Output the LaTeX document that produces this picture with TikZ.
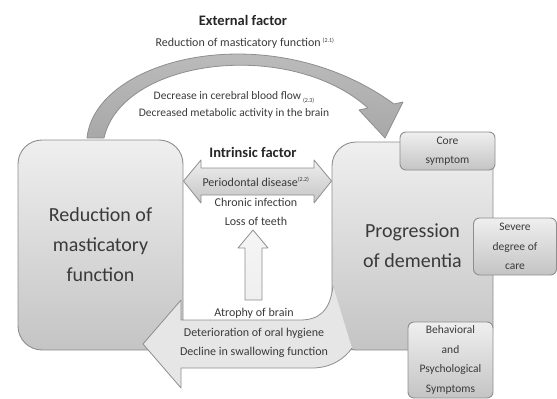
\documentclass[tikz,border=0pt]{standalone}
\usepackage{fontspec}
\setmainfont{Carlito}
\usetikzlibrary{positioning}

\definecolor{edgegray}{HTML}{8E8E8E}
\definecolor{inkgray}{HTML}{3A3A3A}
\definecolor{boxtop}{HTML}{EFEFEF}
\definecolor{boxbot}{HTML}{C4C4C4}
\definecolor{arctop}{HTML}{C4C4C4}
\definecolor{arcbot}{HTML}{A8A8A8}
\definecolor{lowfill}{HTML}{E6E6E6}

\tikzset{
  bigbox/.style={draw=edgegray, line width=0.9pt, rounded corners=24pt,
    top color=boxtop, bottom color=boxbot, text=inkgray, align=center,
    inner sep=0pt, font=\fontsize{20}{30}\selectfont},
  smallbox/.style={draw=edgegray, line width=0.9pt, rounded corners=6pt,
    top color=boxtop, bottom color=boxbot, text=inkgray, align=center,
    inner sep=0pt, font=\fontsize{11.5}{19.5}\selectfont},
  factor/.style={font=\bfseries\fontsize{14.5}{16}\selectfont, text=black!85, inner sep=0pt},
  cause/.style={text=inkgray, align=center, inner sep=0pt, font=\fontsize{12}{19.5}\selectfont},
  fatarrow/.style={draw=edgegray, line width=0.8pt, line join=round}
}
\newcommand{\refnum}[1]{\textsuperscript{\fontsize{6}{6}\selectfont(#1)}}

\begin{document}
\begin{tikzpicture}[x=1pt,y=-1pt]
\useasboundingbox (0,0) rectangle (557,399);

% external factor: curved arrow over the top
\path[fatarrow, top color=arctop, bottom color=arcbot]
  (87,138) .. controls (95,58) and (270,14) .. (394,104)
  -- (403,102) -- (385,138) -- (359,110) -- (368,108)
  .. controls (290,38) and (122,58) .. (104,138) -- cycle;

% main boxes
\node[bigbox, minimum width=165pt, minimum height=210pt] (masticatory) at (100.5,245)
  {Reduction of\\masticatory\\function};
\node[bigbox, minimum width=161pt, minimum height=208pt] (dementia) at (412.5,246)
  {Progression\\of dementia};

% symptom boxes
\node[smallbox, minimum width=95pt, minimum height=38pt] (core) at (447.5,151)
  {Core\\symptom};
\node[smallbox, minimum width=83pt, minimum height=57pt] (severe) at (515,246.5)
  {Severe\\degree of\\care};
\node[smallbox, minimum width=85pt, minimum height=76pt] (bpsd) at (450.5,360)
  {Behavioral\\and\\Psychological\\Symptoms};

% intrinsic factor: double arrow
\path[fatarrow, top color=boxtop, bottom color=boxbot]
  (masticatory.east |- 0,181) -- (201,160) -- (201,168) -- (314,168) -- (314,160)
  -- (dementia.west |- 0,181) -- (314,203) -- (314,195) -- (201,195) -- (201,203) -- cycle;

% upward arrow
\path[fatarrow, top color=boxtop!60, bottom color=boxtop]
  (245,300) -- (245,248) -- (238,248) -- (253,230) -- (268,248) -- (262,248)
  -- (262,300) -- cycle;

% back to masticatory function: bent arrow at the bottom
\fill[lowfill]
  (333,286) .. controls (330,312) and (318,320) .. (300,320) -- (181,320)
  -- (181,300) -- (143,344) -- (181,388) -- (181,368) -- (312,368)
  .. controls (332,368) and (345,358) .. (352,348) -- cycle;
\draw[fatarrow]
  (333,286) .. controls (330,312) and (318,320) .. (300,320) -- (181,320)
  -- (181,300) -- (143,344) -- (181,388) -- (181,368) -- (312,368)
  .. controls (332,368) and (345,358) .. (352,348);

% texts
\node[factor] (external) at (243,20) {External factor};
\node[cause] (extcause) at (245,43) {Reduction of masticatory function\,\refnum{2.1}};
\node[cause, font=\fontsize{11.5}{17}\selectfont] (blood) at (234,105)
  {Decrease in cerebral blood flow\,\raisebox{-3pt}{\fontsize{6}{6}\selectfont(2.3)}\\
   Decreased metabolic activity in the brain};
\node[factor] (intrinsic) at (253,152) {Intrinsic factor};
\node[cause] (perio) at (256,182) {Periodontal disease\refnum{2.2}};
\node[cause] (teeth) at (256,212) {Chronic infection\\Loss of teeth};
\node[cause] (atrophy) at (254,333)
  {Atrophy of brain\\Deterioration of oral hygiene\\Decline in swallowing function};
\end{tikzpicture}
\end{document}
